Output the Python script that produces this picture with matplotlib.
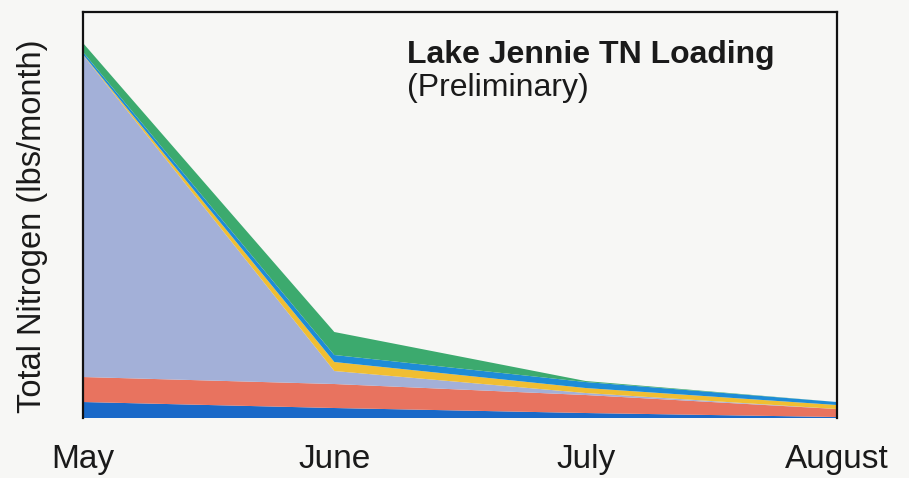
import numpy as np
import matplotlib.pyplot as plt

plt.rcParams['font.family'] = ['Liberation Sans', 'DejaVu Sans']

# Monthly TN loading by source (lbs/month)
months = ['May', 'June', 'July', 'August']
source_1 = [160, 100, 50, 10]      # bottom blue
source_2 = [250, 240, 180, 80]     # red
source_3 = [3220, 130, 20, 0]      # lavender
source_4 = [5, 90, 50, 40]         # yellow
source_5 = [25, 70, 60, 30]        # blue
source_6 = [90, 230, 10, 0]        # green

colors = ['#1a69c8', '#e8735f', '#a3b0d8', '#f0be32', '#1e8cd7', '#3caa6e']

fig = plt.figure(figsize=(9.09, 4.78), dpi=100, facecolor='#f7f7f5')
ax = fig.add_axes([0.0913, 0.1255, 0.8295, 0.8494])
ax.set_facecolor('#f7f7f5')

x = np.arange(len(months))
ax.stackplot(x, source_1, source_2, source_3, source_4, source_5, source_6,
             colors=colors, linewidth=0)

ax.set_xlim(0, len(months) - 1)
ax.set_ylim(0, 4060)
ax.set_xticks(x)
ax.set_xticklabels(months, fontsize=24, color='#1a1a1a')
ax.tick_params(axis='x', length=0, pad=19)
ax.set_yticks([])

for side in ['left', 'top', 'right']:
    ax.spines[side].set_linewidth(1.6)
    ax.spines[side].set_color('#111111')
ax.spines['bottom'].set_visible(False)

ax.set_ylabel('Total Nitrogen (lbs/month)', fontsize=23.5, color='#1a1a1a', va='center')
ax.yaxis.set_label_coords(-0.067, 0.472)

ax.text(0.43, 0.874, 'Lake Jennie TN Loading', transform=ax.transAxes,
        fontsize=23, fontweight='bold', color='#1a1a1a', va='baseline')
ax.text(0.43, 0.793, '(Preliminary)', transform=ax.transAxes,
        fontsize=23, color='#1a1a1a', va='baseline')

fig.savefig('out.png', dpi=100, facecolor=fig.get_facecolor())
